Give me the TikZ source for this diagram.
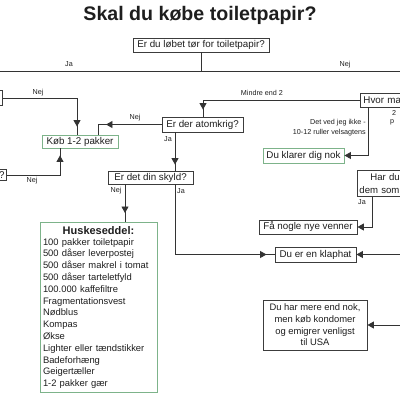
\documentclass[tikz,border=0pt]{standalone}
\usepackage{fontspec}
\setmainfont{Liberation Sans}
\usetikzlibrary{arrows.meta,decorations.markings}
\definecolor{boxgray}{HTML}{3C3C3C}
\definecolor{boxgreen}{HTML}{7DB38A}
\definecolor{txt}{HTML}{1E1E1E}
\definecolor{ln}{HTML}{333333}
\tikzset{
 box/.style={draw=boxgray, line width=0.9pt, inner sep=0pt, minimum height=14pt, font=\fontsize{9.8}{11}\selectfont, text=txt, fill=white},
 gbox/.style={box, draw=boxgreen},
 lab/.style={font=\fontsize{7.2}{8}\selectfont, inner sep=0pt, text=txt},
 conn/.style={draw=ln, color=ln, line width=0.9pt},
 tipend/.style={-{Triangle[length=6.5pt,width=7pt]}},
 tipat/.style={postaction={decorate}, decoration={markings, mark=at position #1 with {\arrow{Triangle[length=6.5pt,width=7pt]}}}},
}
\begin{document}
\begin{tikzpicture}[x=1pt,y=-1pt]
\useasboundingbox (0,0) rectangle (400,400);
\clip (0,0) rectangle (400,400);
% title
\node[font=\fontsize{19.6}{22}\selectfont\bfseries, text=txt, inner sep=0pt] (title) at (200,15) {Skal du købe toiletpapir?};
% top question
\node[box, minimum width=136pt] (q1) at (201,45) {Er du løbet tør for toiletpapir?};
\coordinate (jL) at (0,71);
\coordinate (jR) at (400,71);
\draw[conn] (q1.south) -- (q1.south |- jL);
\draw[conn] (jL) -- (jR);
\node[lab] (lja) at (69,64) {Ja};
\node[lab] (lnej) at (345,65) {Nej};
% nodes
\node[box, minimum width=40pt, minimum height=15pt, anchor=east] (bl1) at (3,98) {};
\node[box, minimum height=11pt, anchor=east, text width=26pt, align=right, inner xsep=2pt] (bl2) at (7,175) {?};
\node[gbox, minimum width=76pt, minimum height=13pt] (kob) at (80,141.5) {Køb 1-2 pakker};
\node[box, minimum width=81pt, minimum height=15pt] (atom) at (202.5,124.5) {Er der atomkrig?};
\node[box, minimum height=14pt, anchor=west, text width=56pt, align=left, inner xsep=3pt] (hvor) at (360,100) {Hvor ma};
\node[box, minimum width=85pt, minimum height=13pt] (skyld) at (150.5,177.5) {Er det din skyld?};
\node[gbox, minimum width=81pt, minimum height=15pt] (klar) at (303.5,155.5) {Du klarer dig nok};
\node[box, anchor=north west, minimum height=26pt, text width=56pt, align=left, inner xsep=2pt, font=\fontsize{9.6}{13}\selectfont] (har) at (357,170) {\hspace*{11pt}Har du\\dem som};
\node[box, minimum width=98pt, minimum height=14pt] (ven) at (308,227) {Få nogle nye venner};
\node[box, minimum width=81pt, minimum height=15pt] (klap) at (315.5,254.5) {Du er en klaphat};
\node[box, minimum width=104pt, minimum height=50pt, align=center, font=\fontsize{9.4}{11.7}\selectfont] (nok) at (315,325) {Du har mere end nok,\\men køb kondomer\\og emigrer venligst\\til USA};
\node[gbox, anchor=north, minimum width=117pt, minimum height=170pt, text width=111pt, align=left, font=\fontsize{9.4}{11.8}\selectfont] (husk) at (98.5,222) {\makebox[111pt][c]{\fontsize{11}{12}\selectfont\bfseries Huskeseddel:}\\[-1pt]
100 pakker toiletpapir\\
500 dåser leverpostej\\
500 dåser makrel i tomat\\
500 dåser tarteletfyld\\
100.000 kaffefiltre\\
Fragmentationsvest\\
Nødblus\\
Kompas\\
Økse\\
Lighter eller tændstikker\\
Badeforhæng\\
Geigertæller\\
1-2 pakker gær};
% connectors
\coordinate (k1) at (77,98);
\draw[conn, tipat=-8pt] (bl1.east) -- (k1) -- (k1 |- kob.north);
\node[lab] (l1) at (38,93) {Nej};
\coordinate (k2) at (60,175);
\draw[conn, tipat=-7pt] (bl2.east) -- (k2) -- (k2 |- kob.south);
\node[lab] (l2) at (32,181) {Nej};
\coordinate (a1) at (203,100);
\draw[conn, tipat=-7pt] (hvor.west) -- (a1) -- (a1 |- atom.north);
\node[lab] (l3) at (262,93) {Mindre end 2};
\coordinate (a2) at (98,124.5);
\draw[conn, tipat=-18pt] (atom.west) -- (a2) -- (a2 |- kob.north);
\node[lab] (l4) at (135,118) {Nej};
\coordinate (s1) at (175,0);
\draw[conn, tipat=-6pt] (s1 |- atom.south) -- (s1 |- skyld.north);
\node[lab] (l5) at (168,139) {Ja};
\coordinate (s2) at (125,0);
\draw[conn, tipat=-9pt] (s2 |- skyld.south) -- (s2 |- husk.north);
\node[lab] (l6) at (116,191) {Nej};
\node[lab] (l7) at (181,191) {Ja};
\coordinate (s3) at (175,254.5);
\draw[conn, tipat=-8pt] (s1 |- skyld.south) -- (s3) -- (klap.west);
\coordinate (r1) at (400,254.5);
\draw[conn, tipend] (r1) -- (klap.east);
\coordinate (h1) at (368,155.5);
\draw[conn, tipend] (h1 |- hvor.south) -- (h1) -- (klar.east);
\node[lab, align=right, anchor=east, font=\fontsize{7.2}{10}\selectfont] (l8) at (366,128) {Det ved jeg ikke -\\10-12 ruller velsagtens};
\node[lab, anchor=west] (l9) at (392,113) {2};
\node[lab, anchor=west] (l10) at (390,122) {p};
\coordinate (v1) at (372,227);
\draw[conn, tipend] (v1 |- har.south) -- (v1) -- (ven.east);
\node[lab] (l11) at (362,202) {Ja};
\coordinate (r2) at (400,325);
\draw[conn, tipend] (r2) -- (nok.east);
\end{tikzpicture}
\end{document}
